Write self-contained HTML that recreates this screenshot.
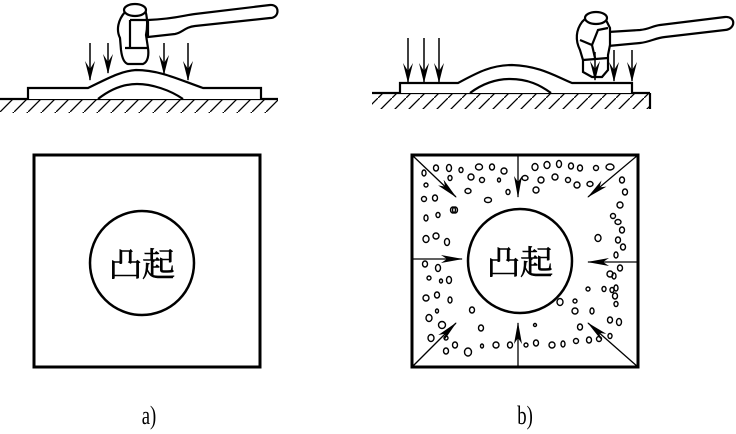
<!DOCTYPE html>
<html><head><meta charset="utf-8"><style>
html,body{margin:0;padding:0;background:#fff;}
svg{display:block}
text{font-family:"Liberation Serif","Noto Serif CJK SC",serif;fill:#000}
</style></head><body>
<svg width="736" height="434" viewBox="0 0 736 434" xmlns="http://www.w3.org/2000/svg">
<defs>
<marker id="ah" markerWidth="20" markerHeight="10" refX="19" refY="5" orient="auto" markerUnits="userSpaceOnUse" viewBox="0 0 20 10">
<path d="M0,0 L20,5 L0,10 L8,5 Z" fill="#000"/></marker>
<marker id="ai" markerWidth="22" markerHeight="8" refX="21" refY="4" orient="auto" markerUnits="userSpaceOnUse" viewBox="0 0 22 8">
<path d="M0,0 L22,4 L0,8 L6,4 Z" fill="#000"/></marker>
<pattern id="hatch" width="14" height="14" patternUnits="userSpaceOnUse">
<path d="M14,0 L0,14" stroke="#000" stroke-width="1.3"/></pattern>
</defs>
<g fill="none" stroke="#000" stroke-width="2.2">
<rect x="0" y="99" width="278" height="14" fill="url(#hatch)" stroke="none"/>
<line x1="0" y1="99" x2="278" y2="99"/>
<path d="M28,99 L28,88 L88,88 C105,80 120,71 136,70 C160,70 180,80 203,88 L261,88 L261,99" fill="#fff"/>
<path d="M98,99 C112,88 125,84 137,84 C152,84 170,90 183,99"/>
<path d="M148,20 C175,19 185,15 195,14 L270,5 C280,4 280,18 270,18 L195,26 C185,27 182,33 175,34 L148,37 Z" fill="#fff"/>
<path d="M125,12 C118,20 116,30 120,38 L121,50 C122,58 124,63 128,64 L143,64 C148,62 149,55 148,48 L146,35 C148,25 147,15 145,10 Z" fill="#fff"/>
<ellipse cx="135" cy="10" rx="11" ry="6" fill="#fff"/>
<path d="M130,20 L147,20 M130,20 L130,48 L147,48 M125,48 L130,48"/>
</g>
<g stroke="#000" stroke-width="1.5">
<line x1="90" y1="43" x2="90" y2="80" marker-end="url(#ah)"/>
<line x1="108" y1="43" x2="108" y2="73" marker-end="url(#ah)"/>
<line x1="164" y1="43" x2="164" y2="74" marker-end="url(#ah)"/>
<line x1="188" y1="43" x2="188" y2="80" marker-end="url(#ah)"/>
</g>
<g fill="none" stroke="#000" stroke-width="2.2">
<rect x="372" y="93" width="278" height="16" fill="url(#hatch)" stroke="none"/>
<line x1="372" y1="93" x2="650" y2="93"/>
<line x1="650" y1="93" x2="650" y2="109"/>
<path d="M400,93 L400,83 L458,83 C475,74 490,65 512,65 C540,66 555,76 572,83 L632,83 L632,93" fill="#fff"/>
<path d="M470,93 C482,84 495,79 510,79 C528,79 540,85 551,93"/>
<path d="M608,32 L640,30 C650,29 652,26 660,25 L725,17 C736,16 736,29 725,30 L665,37 C655,38 650,42 640,43 L608,46 Z" fill="#fff"/>
<path d="M582,22 C576,30 575,40 580,50 L583,60 L583,72 L592,77 L602,77 L608,70 L608,55 L610,45 L610,28 L604,16 L590,14 Z" fill="#fff"/>
<ellipse cx="596" cy="18" rx="11" ry="6" fill="#fff"/>
<path d="M583,60 L608,58 M580,40 L592,45 L598,30 L608,28 M592,45 L595,58"/>
</g>
<g stroke="#000" stroke-width="1.5">
<line x1="408" y1="38" x2="408" y2="82" marker-end="url(#ah)"/>
<line x1="424" y1="38" x2="424" y2="82" marker-end="url(#ah)"/>
<line x1="439" y1="38" x2="439" y2="82" marker-end="url(#ah)"/>
<line x1="595" y1="52" x2="595" y2="80" marker-end="url(#ah)"/>
<line x1="614" y1="50" x2="614" y2="81" marker-end="url(#ah)"/>
<line x1="632" y1="50" x2="632" y2="81" marker-end="url(#ah)"/>
</g>
<rect x="34" y="155" width="226" height="212" fill="none" stroke="#000" stroke-width="3"/>
<circle cx="142" cy="263" r="52" fill="none" stroke="#000" stroke-width="2.5"/>
<text x="142" y="276" font-size="33" text-anchor="middle" stroke="#000" stroke-width="0.6">凸起</text>
<rect x="412" y="155" width="226" height="212" fill="none" stroke="#000" stroke-width="3"/>
<circle cx="520" cy="261" r="52" fill="none" stroke="#000" stroke-width="2.5"/>
<text x="520" y="274" font-size="33" text-anchor="middle" stroke="#000" stroke-width="0.6">凸起</text>
<g stroke="#000" stroke-width="1.3">
<line x1="412" y1="155" x2="456" y2="197" marker-end="url(#ai)"/>
<line x1="638" y1="155" x2="588" y2="197" marker-end="url(#ai)"/>
<line x1="412" y1="367" x2="456" y2="323" marker-end="url(#ai)"/>
<line x1="638" y1="367" x2="588" y2="323" marker-end="url(#ai)"/>
<line x1="518" y1="155" x2="518" y2="197" marker-end="url(#ai)"/>
<line x1="518" y1="367" x2="518" y2="323" marker-end="url(#ai)"/>
<line x1="412" y1="259" x2="462" y2="259" marker-end="url(#ai)"/>
<line x1="638" y1="262" x2="588" y2="262" marker-end="url(#ai)"/>
</g>
<g fill="none" stroke="#000" stroke-width="1.4">
<ellipse cx="424" cy="173" rx="2" ry="3"/><ellipse cx="436" cy="168" rx="2.5" ry="3"/><ellipse cx="449" cy="168" rx="2.5" ry="3.5"/>
<ellipse cx="461" cy="170" rx="2" ry="2.5"/><ellipse cx="479" cy="167" rx="3.5" ry="3"/><ellipse cx="492" cy="167" rx="2.5" ry="3"/>
<ellipse cx="504" cy="171" rx="3" ry="3"/><ellipse cx="471" cy="177" rx="3" ry="3"/><ellipse cx="482" cy="180" rx="2.5" ry="2.5"/>
<ellipse cx="450" cy="178" rx="2" ry="2.5"/><ellipse cx="426" cy="185" rx="2" ry="2"/><ellipse cx="468" cy="191" rx="3" ry="2.5"/>
<ellipse cx="488" cy="200" rx="3.5" ry="2.5"/><ellipse cx="508" cy="192" rx="2" ry="2.5"/><ellipse cx="499" cy="180" rx="1.5" ry="2"/>
<ellipse cx="525" cy="178" rx="3" ry="2.5"/><ellipse cx="535" cy="167" rx="3" ry="3.5"/><ellipse cx="547" cy="165" rx="3" ry="3.5"/>
<ellipse cx="559" cy="164" rx="2.5" ry="3.5"/><ellipse cx="571" cy="166" rx="2.5" ry="3"/><ellipse cx="580" cy="168" rx="2.5" ry="3"/>
<ellipse cx="596" cy="168" rx="2.5" ry="2.5"/><ellipse cx="610" cy="167" rx="4" ry="3"/><ellipse cx="622" cy="180" rx="2.5" ry="3"/>
<ellipse cx="625" cy="192" rx="2.5" ry="3"/><ellipse cx="541" cy="180" rx="3" ry="3"/><ellipse cx="555" cy="177" rx="3" ry="3"/>
<ellipse cx="568" cy="180" rx="2.5" ry="2.5"/><ellipse cx="577" cy="185" rx="3" ry="3"/><ellipse cx="536" cy="190" rx="3" ry="3"/>
<ellipse cx="590" cy="184" rx="3" ry="2.5"/>
<ellipse cx="424" cy="199" rx="2.5" ry="2.5"/><ellipse cx="435" cy="198" rx="2.5" ry="3"/><ellipse cx="455" cy="210" rx="2.5" ry="3"/>
<ellipse cx="426" cy="218" rx="2" ry="3"/><ellipse cx="438" cy="215" rx="2" ry="2.5"/><ellipse cx="453" cy="210" rx="2.5" ry="3"/>
<ellipse cx="426" cy="239" rx="3" ry="3.5"/><ellipse cx="436" cy="236" rx="3" ry="3"/><ellipse cx="447" cy="242" rx="2.5" ry="3.5"/>
<ellipse cx="425" cy="264" rx="2.5" ry="3"/><ellipse cx="438" cy="268" rx="2.5" ry="3.5"/><ellipse cx="429" cy="278" rx="2" ry="2"/>
<ellipse cx="449" cy="280" rx="2.5" ry="3.5"/><ellipse cx="441" cy="281" rx="1.5" ry="2"/><ellipse cx="426" cy="298" rx="3" ry="3"/>
<ellipse cx="437" cy="295" rx="2.5" ry="3"/><ellipse cx="450" cy="300" rx="2" ry="3"/><ellipse cx="437" cy="311" rx="1.5" ry="2"/>
<ellipse cx="472" cy="310" rx="2.5" ry="3"/><ellipse cx="429" cy="318" rx="3" ry="3.5"/><ellipse cx="442" cy="325" rx="3.5" ry="3.5"/>
<ellipse cx="431" cy="338" rx="3" ry="3.5"/><ellipse cx="446" cy="338" rx="2" ry="2"/><ellipse cx="455" cy="345" rx="2.5" ry="3"/>
<ellipse cx="446" cy="351" rx="2.5" ry="3"/><ellipse cx="468" cy="352" rx="3.5" ry="4"/><ellipse cx="481" cy="328" rx="2.5" ry="3"/>
<ellipse cx="482" cy="346" rx="1.5" ry="2"/><ellipse cx="496" cy="345" rx="3" ry="3"/><ellipse cx="510" cy="345" rx="2.5" ry="3"/>
<ellipse cx="526" cy="345" rx="2" ry="2"/><ellipse cx="536" cy="343" rx="2.5" ry="3"/><ellipse cx="552" cy="345" rx="3" ry="3"/>
<ellipse cx="563" cy="344" rx="2" ry="3"/><ellipse cx="576" cy="341" rx="2.5" ry="2.5"/><ellipse cx="589" cy="340" rx="2.5" ry="3"/>
<ellipse cx="599" cy="339" rx="2.5" ry="2.5"/><ellipse cx="535" cy="325" rx="1.5" ry="1.5"/><ellipse cx="560" cy="302" rx="3" ry="3.5"/>
<ellipse cx="575" cy="311" rx="3" ry="3"/><ellipse cx="580" cy="327" rx="2.5" ry="3"/><ellipse cx="592" cy="311" rx="2" ry="3"/>
<ellipse cx="575" cy="301" rx="2" ry="2"/><ellipse cx="588" cy="289" rx="2" ry="2"/><ellipse cx="604" cy="289" rx="2" ry="2.5"/>
<ellipse cx="598" cy="238" rx="3" ry="3.5"/><ellipse cx="610" cy="274" rx="3" ry="3"/><ellipse cx="612" cy="290" rx="2" ry="2.5"/>
<ellipse cx="620" cy="205" rx="3" ry="3"/><ellipse cx="613" cy="216" rx="2.5" ry="2.5"/><ellipse cx="618" cy="222" rx="3" ry="2.5"/>
<ellipse cx="622" cy="230" rx="2.5" ry="3"/><ellipse cx="618" cy="240" rx="2.5" ry="3"/><ellipse cx="623" cy="247" rx="2.5" ry="3"/>
<ellipse cx="616" cy="255" rx="2" ry="3"/><ellipse cx="620" cy="268" rx="2.5" ry="3"/><ellipse cx="614" cy="276" rx="2" ry="3"/>
<ellipse cx="616" cy="288" rx="2" ry="3"/><ellipse cx="615" cy="296" rx="2.5" ry="3"/><ellipse cx="610" cy="320" rx="2.5" ry="3"/>
<ellipse cx="619" cy="322" rx="2.5" ry="3.5"/><ellipse cx="610" cy="336" rx="2" ry="2.5"/><ellipse cx="616" cy="304" rx="2" ry="2.5"/>
</g>
<text transform="translate(149,424) scale(0.85,1.2)" font-size="22" text-anchor="middle">a)</text>
<text transform="translate(525,424) scale(0.85,1.2)" font-size="22" text-anchor="middle">b)</text>
</svg>
</body></html>
